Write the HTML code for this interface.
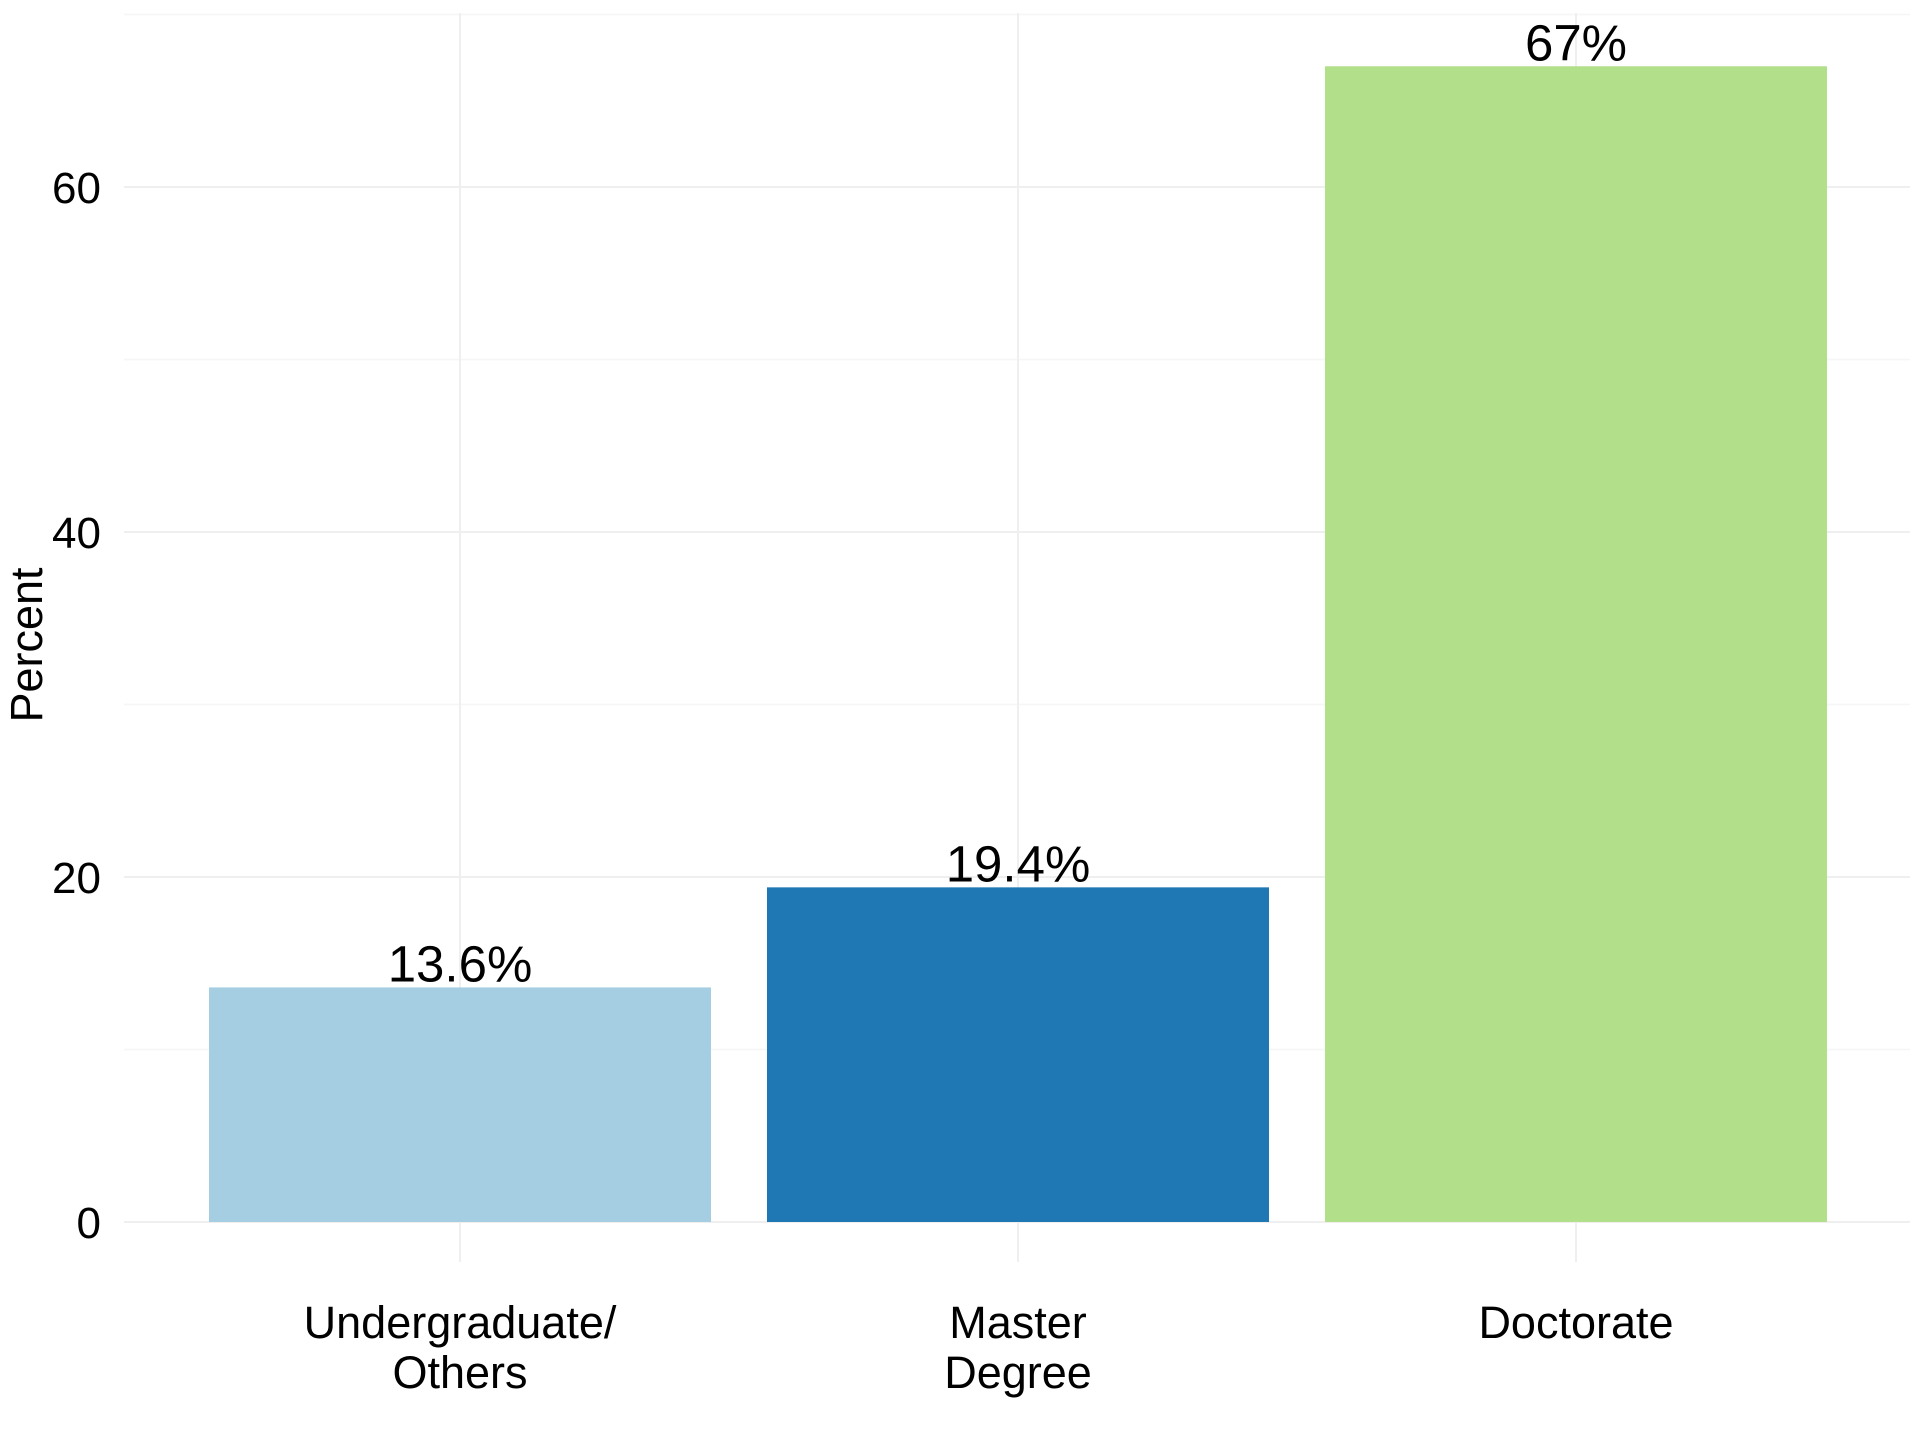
<!DOCTYPE html>
<html><head><meta charset="utf-8"><style>
html,body{margin:0;padding:0;background:#fff;}
svg{display:block;font-family:"Liberation Sans",sans-serif;}
</style></head><body>
<svg id="chart" width="1920" height="1440" viewBox="0 0 1920 1440" xmlns="http://www.w3.org/2000/svg">
<g id="grid"></g>
<g id="bars"></g>
<g id="labels"></g>
<text transform="translate(42,645) rotate(-90)" text-anchor="middle" font-size="45" fill="#000">Percent</text>
</svg>
<script>
const categories = [["Undergraduate/","Others"],["Master","Degree"],["Doctorate"]];
const values = [13.6, 19.4, 67];
const valueLabels = ["13.6%","19.4%","67%"];
const colors = ["#a6cee3","#1f78b4","#b2df8a"];
const yTicks = [0, 20, 40, 60];
const yMinor = [10, 30, 50, 70];

const NS = "http://www.w3.org/2000/svg";
const plotL = 124, plotR = 1910, plotTop = 13, plotBot = 1262;
function y(v){ return 1222 - v * (1222 - 187) / 60; }
const step = 558;
function x(i){ return 460 + i * step; }
const bw = 502;

function mk(tag, attrs, parent){
  const e = document.createElementNS(NS, tag);
  for (const k in attrs) e.setAttribute(k, attrs[k]);
  parent.appendChild(e);
  return e;
}
const grid = document.getElementById('grid');
const bars = document.getElementById('bars');
const labels = document.getElementById('labels');

yMinor.forEach(v => {
  const l = mk('line', {x1: plotL, x2: plotR, y1: y(v), y2: y(v), stroke: '#f6f6f6', 'stroke-width': 1.5}, grid);
  
  
});
yTicks.forEach(v => {
  const l = mk('line', {x1: plotL, x2: plotR, y1: y(v), y2: y(v), stroke: '#efefef', 'stroke-width': 2}, grid);
  
  
  const t = mk('text', {x: 101, y: y(v) + 16, 'text-anchor': 'end', 'font-size': 44, fill: '#000'}, labels);
  t.textContent = String(v);
  
  
});
categories.forEach((c, i) => {
  const l = mk('line', {x1: x(i), x2: x(i), y1: plotTop, y2: plotBot, stroke: '#efefef', 'stroke-width': 2}, grid);
  
  
});
values.forEach((v, i) => {
  const r = mk('rect', {x: x(i) - bw/2, y: y(v), width: bw, height: y(0) - y(v), fill: colors[i]}, bars);
  
  
  const t = mk('text', {x: x(i), y: y(v) - 6, 'text-anchor': 'middle', 'font-size': 51, fill: '#000'}, labels);
  t.textContent = valueLabels[i];
  
  
});
categories.forEach((c, i) => {
  c.forEach((line, j) => {
    const t = mk('text', {x: x(i), y: 1338 + j * 50, 'text-anchor': 'middle', 'font-size': 45, fill: '#000'}, labels);
    t.textContent = line;
    
    
  });
});
</script>
</body></html>
